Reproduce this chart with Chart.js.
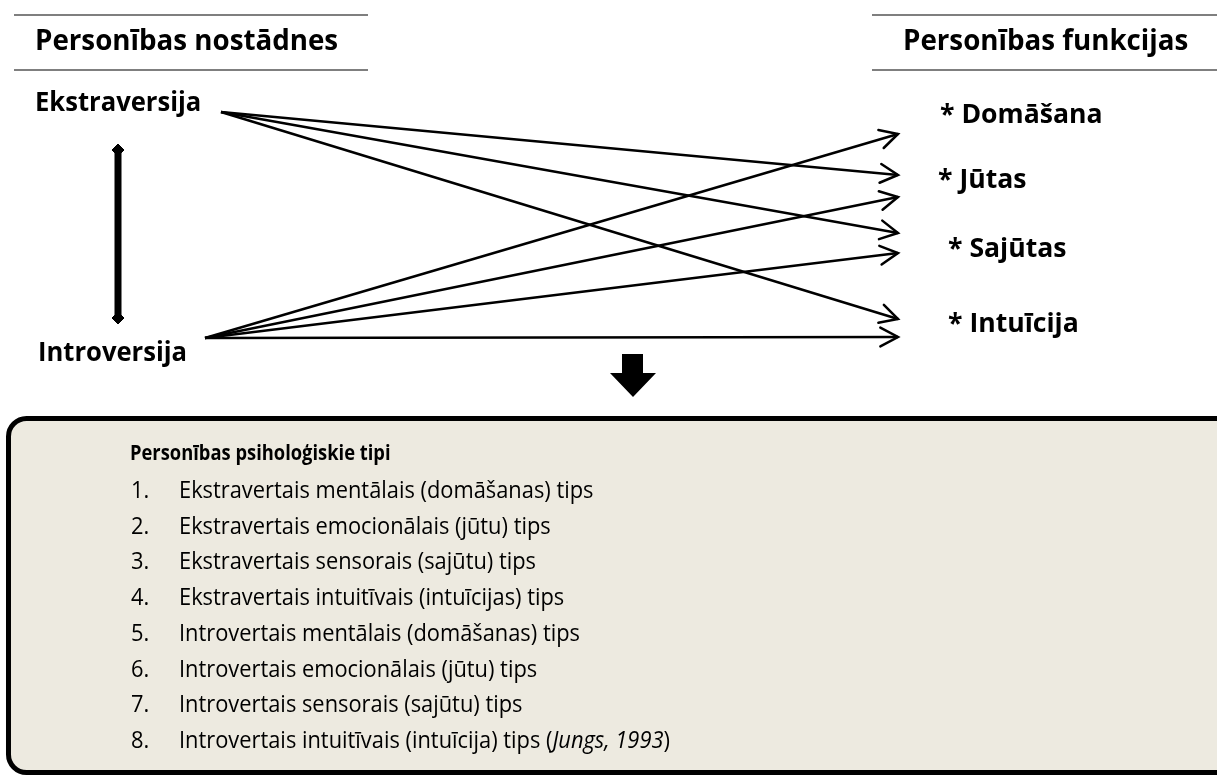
<!DOCTYPE html>
<html lang="lv">
<head>
<meta charset="utf-8">
<title>Personības psiholoģiskie tipi</title>
<script src="https://cdn.jsdelivr.net/npm/chart.js@4.4.1/dist/chart.umd.min.js"></script>
<style>
  html, body { margin: 0; padding: 0; background: #fff; }
  #wrap { width: 1217px; height: 775px; position: relative; }
</style>
</head>
<body>
<div id="wrap"><canvas id="diagram"></canvas></div>
<script>
// teksti un saites
const headerLeft = 'Personības nostādnes';
const headerRight = 'Personības funkcijas';
const attitudes = ['Ekstraversija', 'Introversija'];
const functions = ['* Domāšana', '* Jūtas', '* Sajūtas', '* Intuīcija'];
// [nostādne, funkcija]
const links = [[0, 1], [0, 2], [0, 3], [1, 0], [1, 1], [1, 2], [1, 3]];
const boxTitle = 'Personības psiholoģiskie tipi';
const types = [
  'Ekstravertais mentālais (domāšanas) tips',
  'Ekstravertais emocionālais (jūtu) tips',
  'Ekstravertais sensorais (sajūtu) tips',
  'Ekstravertais intuitīvais (intuīcijas) tips',
  'Introvertais mentālais (domāšanas) tips',
  'Introvertais emocionālais (jūtu) tips',
  'Introvertais sensorais (sajūtu) tips',
  'Introvertais intuitīvais (intuīcija) tips'
];
const source = 'Jungs, 1993';

// izkārtojums (pikseļos, skala 0..1217 x 0..775)
const attitudeText = [{ x: 35, y: 111 }, { x: 38, y: 361 }];
const attitudeAnchor = [{ x: 221, y: 112 }, { x: 205, y: 338 }];
const functionText = [{ x: 940, y: 123 }, { x: 938, y: 188 }, { x: 948, y: 257 }, { x: 948, y: 332 }];
// bultu galu y katrai funkcijai: [no ekstraversijas, no introversijas]
const functionTips = [[114, 134], [175, 197], [233, 253], [319, 337]];
const tipX = 898;
const FONT = '"Open Sans", "Noto Sans", sans-serif';

function txt(ctx, str, x, y, size, weight, sq, style) {
  ctx.save();
  ctx.font = (style || 'normal') + ' ' + weight + ' ' + size + 'px ' + FONT;
  ctx.textBaseline = 'alphabetic';
  ctx.fillStyle = '#000';
  ctx.translate(x, y);
  ctx.scale(sq, 1);
  ctx.fillText(str, 0, 0);
  const w = ctx.measureText(str).width * sq;
  ctx.restore();
  return w;
}

const linkSets = links.map(([a, f]) => ({
  label: attitudes[a] + ' → ' + functions[f],
  data: [
    { x: attitudeAnchor[a].x, y: attitudeAnchor[a].y },
    { x: tipX, y: functionTips[f][a] }
  ],
  showLine: true,
  borderColor: '#000',
  borderWidth: 2.5,
  pointRadius: 0,
  arrow: true
}));

// abpusējā bulta starp nostādnēm
const polarSet = {
  label: attitudes.join(' ↔ '),
  data: [{ x: 118, y: 150 }, { x: 118, y: 318 }],
  showLine: true,
  borderColor: '#000',
  borderWidth: 7,
  pointStyle: 'rectRot',
  pointRadius: 6,
  pointBackgroundColor: '#000',
  pointBorderColor: '#000',
  pointBorderWidth: 1
};

const decor = {
  id: 'decor',
  beforeDraw(chart) {
    const ctx = chart.ctx;
    ctx.save();
    ctx.fillStyle = '#fff';
    ctx.fillRect(0, 0, chart.width, chart.height);
    // virsrakstu līnijas
    ctx.strokeStyle = '#7f7f7f';
    ctx.lineWidth = 2;
    [[14, 368], [872, 1217]].forEach(([x1, x2]) => {
      [15, 70].forEach(y => {
        ctx.beginPath(); ctx.moveTo(x1, y); ctx.lineTo(x2, y); ctx.stroke();
      });
    });
    // kaste
    ctx.beginPath();
    ctx.roundRect(8.5, 418.5, 1240, 354, 18);
    ctx.fillStyle = '#edeae0';
    ctx.fill();
    ctx.lineWidth = 5;
    ctx.strokeStyle = '#000';
    ctx.stroke();
    // lejup bulta
    ctx.beginPath();
    ctx.moveTo(622, 354); ctx.lineTo(643, 354); ctx.lineTo(643, 373);
    ctx.lineTo(656, 373); ctx.lineTo(633, 397); ctx.lineTo(610, 373);
    ctx.lineTo(622, 373); ctx.closePath();
    ctx.fillStyle = '#000';
    ctx.fill();
    ctx.restore();
  },
  afterDatasetsDraw(chart) {
    const ctx = chart.ctx;
    ctx.save();
    ctx.strokeStyle = '#000';
    ctx.lineWidth = 2.5;
    ctx.lineCap = 'round';
    chart.data.datasets.forEach((ds, i) => {
      if (!ds.arrow) return;
      const pts = chart.getDatasetMeta(i).data;
      const a = pts[0], b = pts[1];
      const ang = Math.atan2(b.y - a.y, b.x - a.x);
      const len = 20, spread = 0.49;
      ctx.beginPath();
      ctx.moveTo(b.x - len * Math.cos(ang - spread), b.y - len * Math.sin(ang - spread));
      ctx.lineTo(b.x, b.y);
      ctx.lineTo(b.x - len * Math.cos(ang + spread), b.y - len * Math.sin(ang + spread));
      ctx.stroke();
    });
    ctx.restore();

    txt(ctx, headerLeft, 35, 50, 28, 'bold', 0.99);
    txt(ctx, headerRight, 903, 50, 28, 'bold', 0.99);
    attitudes.forEach((s, i) => txt(ctx, s, attitudeText[i].x, attitudeText[i].y, 26, 'bold', 0.985));
    functions.forEach((s, i) => txt(ctx, s, functionText[i].x, functionText[i].y, 27, 'bold', 0.985));

    txt(ctx, boxTitle, 130, 460, 20.5, 'bold', 0.895);
    types.forEach((s, i) => {
      const y = 498 + i * 35.7;
      txt(ctx, (i + 1) + '.', 131, y, 24, 'normal', 0.91);
      let x = 179 + txt(ctx, s, 179, y, 24, 'normal', 0.91);
      if (i === types.length - 1) {
        x += txt(ctx, ' (', x, y, 24, 'normal', 0.91);
        x += txt(ctx, source, x, y, 24, 'normal', 0.91, 'italic');
        txt(ctx, ')', x, y, 24, 'normal', 0.91);
      }
    });
  }
};

function build() {
  new Chart(document.getElementById('diagram'), {
    type: 'scatter',
    data: { datasets: [...linkSets, polarSet] },
    options: {
      responsive: true,
      maintainAspectRatio: false,
      animation: false,
      layout: { padding: 0, autoPadding: false },
      scales: {
        x: { type: 'linear', min: 0, max: 1217, display: false },
        y: { type: 'linear', min: 0, max: 775, reverse: true, display: false }
      },
      plugins: { legend: { display: false }, tooltip: { enabled: false } },
      elements: { line: { tension: 0 } },
      clip: false
    },
    plugins: [decor]
  });
}

Promise.all([
  document.fonts.load('bold 26px "Open Sans"'),
  document.fonts.load('24px "Open Sans"'),
  document.fonts.load('italic 24px "Open Sans"')
]).then(build, build);
</script>
</body>
</html>
